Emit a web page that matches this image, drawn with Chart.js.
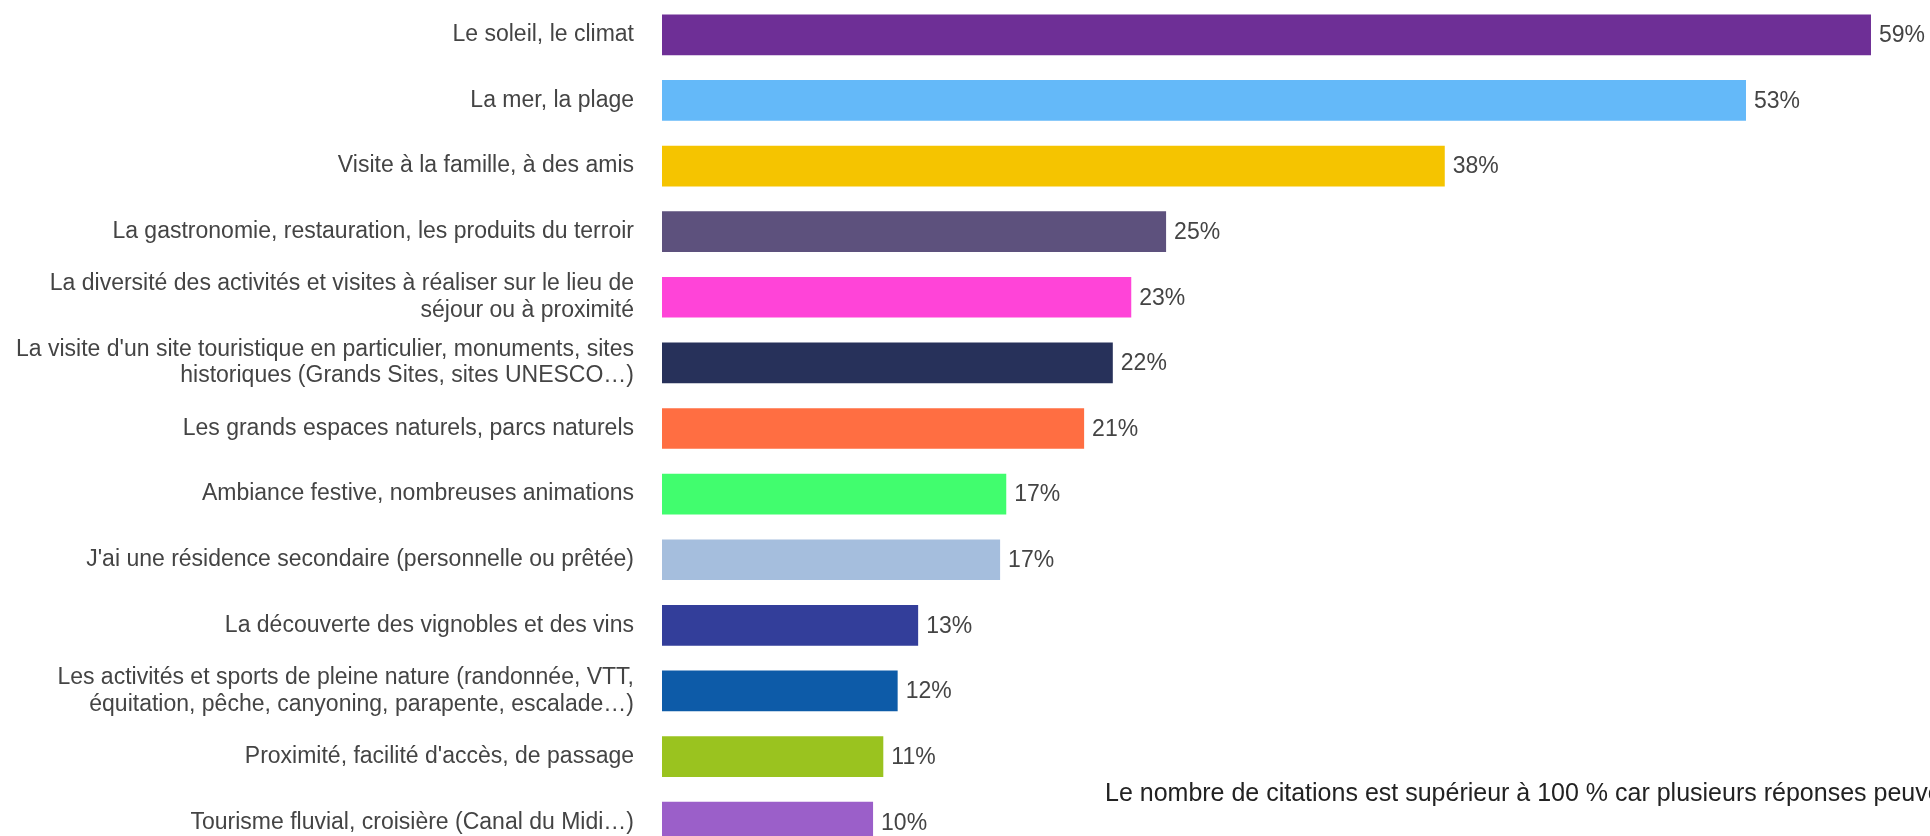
<!DOCTYPE html>
<html lang="fr">
<head>
<meta charset="utf-8">
<title>Motivations du séjour</title>
<script src="https://cdn.jsdelivr.net/npm/chart.js@4.4.1/dist/chart.umd.min.js"></script>
<style>
  html, body { margin: 0; padding: 0; background: #fff; overflow: hidden; width: 1930px; height: 836px; }
  #zone { position: relative; width: 1930px; height: 857px; }
  #note {
    position: absolute; left: 1105px; top: 780px; line-height: 1;
    font-family: "Liberation Sans", Arial, sans-serif; font-size: 25px; color: #222;
    white-space: nowrap;
  }
</style>
</head>
<body>
<div id="zone">
  <canvas id="graf"></canvas>
  <div id="note">Le nombre de citations est supérieur à 100 % car plusieurs réponses peuvent être données.</div>
</div>
<script>
// motivations (libellés, découpés sur deux lignes quand c'est long)
const motifs = [
  'Le soleil, le climat',
  'La mer, la plage',
  'Visite à la famille, à des amis',
  'La gastronomie, restauration, les produits du terroir',
  ['La diversité des activités et visites à réaliser sur le lieu de', 'séjour ou à proximité'],
  ["La visite d'un site touristique en particulier, monuments, sites", 'historiques (Grands Sites, sites UNESCO…)'],
  'Les grands espaces naturels, parcs naturels',
  'Ambiance festive, nombreuses animations',
  "J'ai une résidence secondaire (personnelle ou prêtée)",
  'La découverte des vignobles et des vins',
  ['Les activités et sports de pleine nature (randonnée, VTT,', 'équitation, pêche, canyoning, parapente, escalade…)'],
  "Proximité, facilité d'accès, de passage",
  'Tourisme fluvial, croisière (Canal du Midi…)'
];
// pourcentages de citations
const pourcentages = [59, 52.9, 38.2, 24.6, 22.9, 22, 20.6, 16.8, 16.5, 12.5, 11.5, 10.8, 10.3];
const couleurs = ['#6e2f96', '#64b9f9', '#f5c400', '#5d517d', '#ff44d8', '#27315a', '#ff6e42',
  '#41fd6e', '#a5bedd', '#333e9a', '#0d5ba8', '#9ac31f', '#9b5fc9'];

const police = '"Liberation Sans", Arial, sans-serif';

// affiche la valeur a droite de chaque barre
const etiquettes = {
  id: 'etiquettes',
  afterDatasetsDraw(chart) {
    const ctx = chart.ctx;
    const meta = chart.getDatasetMeta(0);
    ctx.save();
    ctx.font = '23px ' + police;
    ctx.fillStyle = '#444';
    ctx.textAlign = 'left';
    ctx.textBaseline = 'middle';
    meta.data.forEach((barre, i) => {
      ctx.fillText(Math.round(pourcentages[i]) + '%', barre.x + 8, barre.y + 1);
    });
    ctx.restore();
  }
};

new Chart(document.getElementById('graf'), {
  type: 'bar',
  data: {
    labels: motifs,
    datasets: [{
      data: pourcentages,
      backgroundColor: couleurs,
      borderWidth: 0,
      barPercentage: 0.62,
      categoryPercentage: 1
    }]
  },
  options: {
    indexAxis: 'y',
    responsive: true,
    maintainAspectRatio: false,
    devicePixelRatio: 1,
    animation: false,
    layout: { padding: { top: 2, right: 0, bottom: 2, left: 0 } },
    plugins: { legend: { display: false }, tooltip: { enabled: false } },
    scales: {
      x: { display: false, min: 0, max: 61.88 },
      y: {
        grid: { display: false, drawTicks: false },
        border: { display: false },
        afterFit(scale) {
          scale.width = 662;
          // pas de marge haut/bas ajoutee par le padding des ticks
          scale.paddingTop = 0;
          scale.paddingBottom = 0;
        },
        ticks: {
          padding: 28,
          color: '#444',
          font: { family: police, size: 23, lineHeight: 1.15 }
        }
      }
    }
  },
  plugins: [etiquettes]
});
</script>
</body>
</html>
